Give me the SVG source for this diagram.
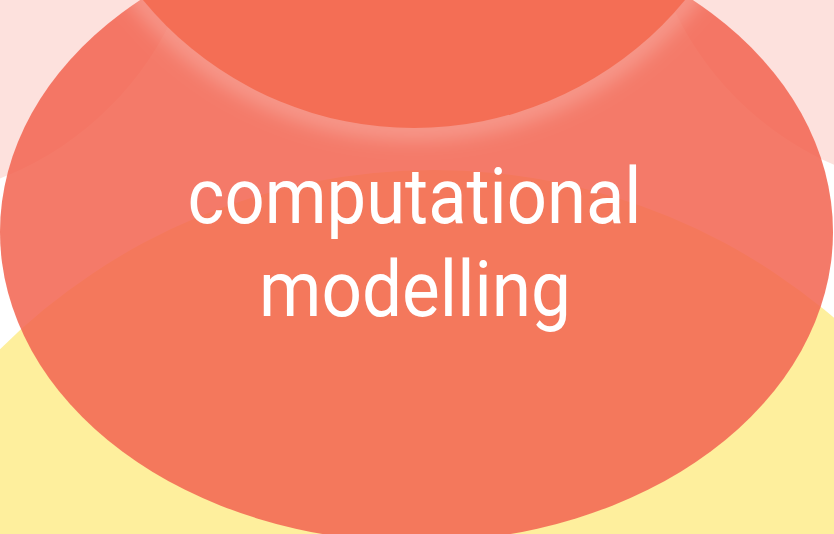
<svg xmlns="http://www.w3.org/2000/svg" width="834" height="534" viewBox="0 0 834 534">
  <style>
    .set-pink { fill: #fde1dd; }
    .set-yellow { fill: #feef9d; }
    .set-main { fill: #f26652; fill-opacity: 0.866; }
    .set-top { fill: #f46e55; }
    .label { font-family: Roboto, "Liberation Sans", sans-serif; font-size: 78px; fill: #ffffff; text-anchor: middle; }
  </style>
  <defs>
    <filter id="glow" x="-20%" y="-20%" width="140%" height="140%">
      <feGaussianBlur stdDeviation="10"/>
    </filter>
    <clipPath id="mainClip">
      <ellipse cx="416.5" cy="232" rx="416.5" ry="310"/>
    </clipPath>
  </defs>

  <rect width="834" height="534" fill="#ffffff"/>

  <!-- outer sets partially in view -->
  <g id="set-left">
    <circle class="set-pink" cx="-115" cy="-118" r="318"/>
  </g>
  <g id="set-right">
    <circle class="set-pink" cx="960" cy="-125" r="316"/>
  </g>
  <g id="set-bottom">
    <circle class="set-yellow" cx="434" cy="785" r="615"/>
  </g>

  <!-- central set with its label -->
  <g id="computational-modelling">
    <ellipse class="set-main" cx="416.5" cy="232" rx="416.5" ry="310"/>
    <text class="label" x="414.5" y="223" textLength="454" lengthAdjust="spacingAndGlyphs">computational</text>
    <text class="label" x="415" y="316" textLength="312" lengthAdjust="spacingAndGlyphs">modelling</text>
  </g>

  <!-- upper set with soft light rim -->
  <g id="set-top">
    <g clip-path="url(#mainClip)">
      <circle cx="414" cy="-223" r="351" fill="none" stroke="#ffffff" stroke-width="22" stroke-opacity="0.26" filter="url(#glow)"/>
    </g>
    <circle class="set-top" cx="414" cy="-223" r="351"/>
  </g>
</svg>
